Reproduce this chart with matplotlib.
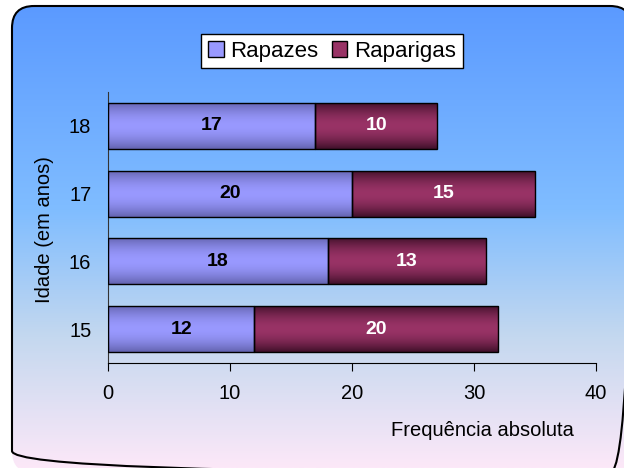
import numpy as np
import matplotlib.pyplot as plt
import matplotlib.colors as mcolors
from matplotlib.patches import FancyBboxPatch, Patch

plt.rcParams["font.family"] = ["Liberation Sans", "DejaVu Sans"]

# Data
ages = ["15", "16", "17", "18"]
boys = [12, 18, 20, 17]
girls = [20, 13, 15, 10]
series_names = ["Rapazes", "Raparigas"]

W, H = 624, 468


def vertical_gradient(stops, n=256):
    # stops: list of (position, color) from top (0) to bottom (1)
    cmap = mcolors.LinearSegmentedColormap.from_list("g", stops)
    return cmap(np.linspace(0, 1, n))[:, np.newaxis, :3]


def bar_gradient(edge, mid, n=64):
    t = np.linspace(-1, 1, n)
    w = np.abs(t) ** 1.8
    e = np.array(mcolors.to_rgb(edge))
    m = np.array(mcolors.to_rgb(mid))
    img = m[None, :] * (1 - w[:, None]) + e[None, :] * w[:, None]
    return img[:, np.newaxis, :]


fig = plt.figure(figsize=(W / 100, H / 100), dpi=100)
fig.patch.set_facecolor("white")

# Background with rounded border
bg = fig.add_axes([0, 0, 1, 1], zorder=-5)
bg.set_xlim(0, W)
bg.set_ylim(H, 0)
bg.axis("off")
frame = FancyBboxPatch((12, 6), 620, 467,
                       boxstyle="round,pad=0,rounding_size=22",
                       facecolor="none", edgecolor="black", linewidth=1.5)
bg.add_patch(frame)
img = bg.imshow(vertical_gradient([(0.0, "#5A99FF"), (0.45, "#80BDFF"),
                                   (0.72, "#C4D8EF"), (1.0, "#FCE8F8")]),
                extent=(0, W, H, 0), aspect="auto", zorder=0)
img.set_clip_path(frame)

# Main axes
ax = fig.add_axes([108 / W, 1 - 363 / H, 488 / W, 271 / H])
ax.patch.set_alpha(0)
y = np.arange(len(ages))
bar_h = 0.68

styles = [("#6464B0", "#9999FF", "black"), ("#40102A", "#993366", "white")]
left = np.zeros(len(ages))
handles = []
for vals, name, (edge, mid, txt) in zip([boys, girls], series_names, styles):
    bars = ax.barh(y, vals, left=left, height=bar_h, facecolor="none",
                   edgecolor="black", linewidth=1, zorder=3)
    grad = bar_gradient(edge, mid)
    for p in bars.patches:
        x0, y0 = p.get_x(), p.get_y()
        im = ax.imshow(grad, extent=(x0, x0 + p.get_width(), y0, y0 + p.get_height()),
                       aspect="auto", origin="lower", zorder=2)
        im.set_clip_path(p)
    ax.bar_label(bars, label_type="center", color=txt, fontsize=14,
                 fontweight="bold", zorder=4)
    left += np.array(vals)
    handles.append(Patch(facecolor=mid, edgecolor="black", linewidth=1, label=name))

ax.set_xlim(0, 40)
ax.set_ylim(-0.5, len(ages) - 0.5)
ax.set_xticks([0, 10, 20, 30, 40])
ax.set_yticks(y)
ax.set_yticklabels(ages)
ax.tick_params(axis="x", length=6, width=0.8, pad=9, labelsize=14.5, direction="out")
ax.tick_params(axis="y", length=0, pad=12, labelsize=14.5)
for s in ["top", "right"]:
    ax.spines[s].set_visible(False)
ax.spines["left"].set_color("#333333")
ax.spines["left"].set_linewidth(0.8)
ax.spines["bottom"].set_linewidth(0.8)

fig.text(482 / W, 1 - 431 / H, "Frequência absoluta", ha="center", va="center",
         fontsize=14.5)
fig.text(45 / W, 1 - 230 / H, "Idade (em anos)", ha="center", va="center",
         rotation=90, fontsize=14.5)

leg = fig.legend(handles=handles, loc="center", bbox_to_anchor=(332 / W, 1 - 51 / H),
                 ncol=2, fontsize=16, frameon=True, fancybox=False,
                 edgecolor="black", facecolor="white", framealpha=1,
                 handlelength=0.7, handleheight=0.7, handletextpad=0.3,
                 columnspacing=0.6, borderpad=0.3)
leg.get_frame().set_linewidth(1)

fig.savefig("out.png", dpi=100)
